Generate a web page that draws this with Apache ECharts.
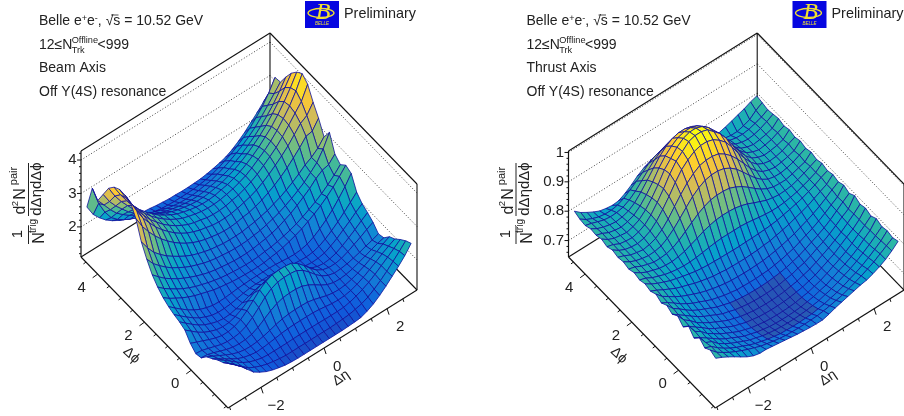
<!DOCTYPE html>
<html><head><meta charset="utf-8">
<style>html,body{margin:0;padding:0;background:#fff}#c{width:904px;height:416px}</style>
<script src="https://cdn.jsdelivr.net/npm/echarts@6/dist/echarts.min.js"></script>
</head><body><div id="c"></div>
<script>
// rows run along dPhi (first row = lowest dPhi), columns along dEta
const zBeam = [
[2.30,2.14,1.96,1.76,1.56,1.44,1.34,1.27,1.22,1.18,1.16,1.15,1.15,1.15,1.15,1.15,1.15,1.15,1.15,1.16,1.17,1.19,1.26,1.36,1.50,1.66,1.84,2.02,2.22,2.47],
[2.15,2.00,1.84,1.68,1.52,1.42,1.34,1.28,1.24,1.21,1.19,1.19,1.19,1.19,1.19,1.19,1.19,1.19,1.20,1.21,1.23,1.27,1.32,1.40,1.52,1.66,1.82,2.00,2.18,2.38],
[2.06,1.93,1.79,1.64,1.51,1.41,1.34,1.29,1.27,1.27,1.27,1.27,1.28,1.28,1.28,1.28,1.28,1.27,1.27,1.27,1.28,1.32,1.38,1.46,1.56,1.68,1.82,1.96,2.10,2.25],
[1.93,1.81,1.69,1.57,1.46,1.38,1.33,1.30,1.31,1.33,1.36,1.39,1.41,1.42,1.42,1.42,1.42,1.40,1.37,1.34,1.33,1.34,1.38,1.45,1.54,1.65,1.77,1.89,2.00,2.10],
[1.82,1.72,1.62,1.52,1.43,1.36,1.32,1.31,1.33,1.37,1.43,1.49,1.54,1.57,1.58,1.58,1.57,1.53,1.47,1.41,1.37,1.36,1.38,1.43,1.50,1.59,1.69,1.79,1.90,2.00],
[1.62,1.60,1.54,1.47,1.40,1.35,1.33,1.34,1.38,1.47,1.60,1.73,1.83,1.89,1.91,1.91,1.88,1.80,1.69,1.56,1.46,1.40,1.39,1.41,1.46,1.53,1.60,1.68,1.75,1.80],
[1.58,1.56,1.50,1.44,1.38,1.35,1.35,1.38,1.46,1.60,1.78,1.97,2.11,2.19,2.21,2.21,2.18,2.07,1.90,1.71,1.55,1.45,1.40,1.41,1.44,1.49,1.55,1.62,1.68,1.75],
[1.72,1.64,1.56,1.48,1.41,1.36,1.36,1.40,1.49,1.64,1.83,2.02,2.16,2.24,2.26,2.26,2.23,2.11,1.93,1.73,1.56,1.45,1.40,1.40,1.44,1.52,1.62,1.72,1.83,1.93],
[1.95,1.80,1.65,1.53,1.44,1.37,1.34,1.35,1.41,1.51,1.64,1.77,1.87,1.93,1.95,1.95,1.92,1.82,1.69,1.55,1.45,1.38,1.35,1.37,1.43,1.53,1.65,1.78,1.92,2.05],
[2.03,1.87,1.72,1.58,1.47,1.39,1.33,1.30,1.31,1.36,1.42,1.50,1.57,1.61,1.62,1.62,1.60,1.55,1.48,1.41,1.35,1.33,1.34,1.38,1.47,1.58,1.72,1.86,2.01,2.15],
[2.08,1.92,1.77,1.63,1.51,1.42,1.35,1.32,1.32,1.34,1.38,1.42,1.45,1.46,1.46,1.46,1.45,1.43,1.40,1.36,1.34,1.33,1.35,1.41,1.51,1.64,1.79,1.96,2.14,2.33],
[2.15,1.99,1.84,1.70,1.58,1.48,1.41,1.36,1.35,1.36,1.38,1.40,1.41,1.42,1.42,1.42,1.42,1.41,1.39,1.37,1.36,1.38,1.43,1.52,1.65,1.80,1.98,2.20,2.44,2.72],
[2.25,2.11,2.00,1.89,1.80,1.72,1.66,1.60,1.54,1.50,1.47,1.44,1.42,1.41,1.40,1.40,1.41,1.44,1.47,1.51,1.57,1.64,1.72,1.82,1.93,2.06,2.21,2.38,2.58,2.80],
[2.40,2.24,2.11,1.99,1.88,1.79,1.71,1.65,1.59,1.54,1.50,1.47,1.45,1.43,1.42,1.42,1.43,1.46,1.48,1.52,1.57,1.63,1.70,1.79,1.89,2.00,2.13,2.28,2.45,2.65],
[2.60,2.42,2.26,2.13,2.01,1.91,1.82,1.74,1.67,1.61,1.57,1.54,1.51,1.49,1.48,1.48,1.50,1.53,1.56,1.61,1.67,1.76,1.85,1.97,2.10,2.24,2.42,2.55,2.60,2.80],
[2.90,2.65,2.47,2.31,2.17,2.06,1.95,1.86,1.79,1.72,1.67,1.63,1.61,1.58,1.57,1.57,1.58,1.61,1.64,1.69,1.75,1.82,1.91,2.01,2.13,2.26,2.43,2.61,2.90,3.28],
[3.25,2.95,2.70,2.52,2.36,2.23,2.11,2.00,1.91,1.84,1.78,1.73,1.70,1.67,1.66,1.66,1.67,1.70,1.73,1.78,1.83,1.91,1.99,2.09,2.21,2.34,2.49,2.60,2.75,2.98],
[3.78,3.43,3.15,2.91,2.70,2.52,2.36,2.22,2.10,2.00,1.92,1.86,1.82,1.78,1.76,1.76,1.78,1.82,1.85,1.91,1.98,2.08,2.19,2.32,2.47,2.65,2.84,3.06,3.10,3.37],
[4.10,3.72,3.39,3.13,2.89,2.69,2.52,2.36,2.23,2.12,2.04,1.97,1.93,1.88,1.86,1.86,1.88,1.92,1.97,2.03,2.11,2.22,2.35,2.50,2.66,2.84,3.06,3.28,3.40,3.68],
[4.15,3.78,3.45,3.18,2.94,2.75,2.57,2.42,2.29,2.18,2.09,2.03,1.99,1.94,1.92,1.92,1.94,1.99,2.03,2.10,2.19,2.30,2.44,2.59,2.75,2.95,3.18,3.42,3.65,4.05],
[4.15,3.78,3.45,3.19,2.96,2.76,2.59,2.44,2.31,2.20,2.11,2.05,2.00,1.96,1.94,1.94,1.96,2.00,2.05,2.12,2.20,2.32,2.46,2.60,2.77,2.97,3.21,3.47,3.80,4.20],
[4.05,3.71,3.41,3.15,2.91,2.72,2.55,2.39,2.27,2.16,2.07,2.01,1.96,1.92,1.90,1.90,1.92,1.97,2.01,2.08,2.16,2.27,2.40,2.55,2.73,2.92,3.16,3.43,3.73,4.08],
[3.85,3.50,3.22,2.98,2.75,2.57,2.41,2.27,2.15,2.05,1.97,1.91,1.87,1.83,1.81,1.81,1.83,1.87,1.91,1.98,2.06,2.17,2.29,2.44,2.60,2.79,3.02,3.27,3.57,3.88],
[3.50,3.17,2.92,2.71,2.51,2.35,2.21,2.09,1.98,1.89,1.82,1.77,1.73,1.70,1.68,1.68,1.70,1.74,1.78,1.84,1.91,2.01,2.12,2.26,2.41,2.59,2.79,3.02,3.29,3.60],
[3.15,2.90,2.64,2.42,2.26,2.12,2.00,1.90,1.82,1.75,1.68,1.62,1.58,1.55,1.54,1.54,1.56,1.60,1.63,1.70,1.78,1.87,1.98,2.10,2.24,2.40,2.60,2.82,3.05,3.28],
[3.35,2.78,2.40,2.12,1.95,1.82,1.72,1.64,1.58,1.52,1.48,1.45,1.43,1.42,1.42,1.42,1.43,1.45,1.48,1.53,1.60,1.69,1.78,1.90,2.04,2.20,2.40,2.62,2.90,3.25],
[2.62,2.28,2.06,1.88,1.74,1.63,1.55,1.49,1.45,1.42,1.40,1.37,1.35,1.33,1.33,1.32,1.32,1.33,1.34,1.37,1.41,1.46,1.52,1.62,1.75,1.90,2.08,2.26,2.46,2.62]
];
const zThrust = [
[.797,.787,.775,.762,.748,.735,.725,.720,.720,.717,.714,.711,.708,.705,.703,.701,.700,.700,.706,.714,.720,.726,.732,.738,.742,.750,.760,.772,.788,.807],
[.806,.785,.771,.758,.747,.737,.728,.720,.712,.707,.702,.698,.695,.694,.693,.693,.694,.695,.698,.702,.707,.712,.720,.728,.737,.747,.758,.772,.786,.800],
[.794,.786,.768,.753,.740,.729,.720,.710,.702,.696,.690,.686,.682,.681,.680,.680,.681,.682,.686,.690,.696,.702,.710,.720,.729,.740,.753,.768,.784,.805],
[.810,.780,.770,.750,.736,.724,.714,.704,.695,.689,.682,.678,.675,.673,.672,.672,.673,.675,.678,.682,.689,.695,.704,.714,.724,.736,.750,.765,.782,.800],
[.790,.778,.763,.748,.733,.720,.710,.699,.689,.683,.676,.672,.668,.666,.665,.665,.666,.668,.672,.676,.683,.689,.699,.710,.720,.732,.746,.764,.781,.808],
[.812,.780,.766,.746,.732,.718,.707,.696,.686,.679,.672,.668,.664,.662,.661,.661,.662,.664,.668,.672,.679,.686,.696,.707,.718,.730,.745,.762,.779,.798],
[.790,.778,.762,.747,.730,.717,.706,.695,.685,.678,.671,.667,.663,.661,.660,.660,.661,.663,.667,.671,.678,.685,.695,.706,.717,.732,.747,.761,.780,.806],
[.808,.781,.765,.745,.731,.718,.707,.696,.686,.679,.672,.668,.664,.662,.661,.661,.662,.664,.668,.672,.679,.686,.696,.707,.718,.731,.745,.762,.780,.800],
[.795,.779,.764,.748,.733,.720,.710,.699,.689,.683,.676,.672,.668,.666,.665,.665,.666,.668,.672,.676,.683,.689,.699,.710,.720,.733,.748,.764,.778,.810],
[.806,.782,.767,.750,.735,.723,.713,.703,.693,.687,.680,.676,.673,.671,.670,.670,.671,.673,.676,.680,.687,.693,.703,.713,.723,.735,.749,.766,.783,.799],
[.795,.783,.768,.752,.739,.727,.718,.708,.699,.693,.687,.683,.679,.678,.677,.677,.678,.679,.683,.687,.693,.699,.708,.718,.727,.739,.752,.767,.781,.808],
[.806,.785,.771,.757,.745,.735,.726,.717,.710,.704,.699,.695,.692,.691,.690,.690,.691,.692,.695,.699,.704,.710,.717,.726,.735,.745,.757,.771,.786,.800],
[.797,.787,.775,.764,.753,.745,.738,.730,.724,.719,.714,.712,.709,.708,.707,.707,.708,.709,.712,.714,.719,.724,.730,.738,.745,.753,.764,.775,.786,.806],
[.803,.789,.778,.769,.760,.754,.748,.743,.738,.735,.733,.732,.731,.731,.730,.730,.731,.731,.732,.733,.735,.738,.743,.748,.754,.760,.769,.778,.790,.800],
[.797,.790,.778,.770,.762,.757,.753,.751,.751,.753,.756,.760,.763,.765,.765,.765,.765,.763,.760,.756,.753,.751,.751,.753,.757,.762,.770,.778,.788,.806],
[.803,.789,.778,.771,.764,.761,.760,.763,.768,.777,.786,.796,.803,.808,.810,.810,.808,.803,.796,.786,.777,.768,.763,.760,.761,.764,.771,.780,.790,.800],
[.796,.790,.779,.772,.766,.766,.768,.775,.787,.803,.820,.836,.848,.857,.860,.860,.857,.848,.836,.820,.803,.787,.775,.768,.766,.766,.772,.779,.786,.806],
[.802,.788,.779,.773,.769,.770,.775,.788,.806,.829,.853,.876,.893,.905,.910,.910,.905,.893,.876,.853,.829,.806,.788,.775,.770,.769,.773,.780,.790,.800],
[.798,.790,.779,.774,.770,.774,.782,.798,.821,.850,.878,.903,.922,.936,.941,.941,.936,.922,.903,.878,.850,.821,.798,.782,.774,.770,.774,.779,.786,.806],
[.804,.789,.779,.774,.772,.777,.788,.808,.835,.866,.900,.930,.950,.965,.972,.972,.965,.950,.930,.900,.866,.835,.808,.788,.777,.772,.774,.780,.790,.800],
[.796,.790,.779,.775,.773,.779,.790,.811,.840,.873,.910,.940,.960,.980,.987,.987,.980,.960,.940,.910,.873,.840,.811,.790,.779,.773,.775,.779,.786,.806],
[.803,.788,.779,.775,.772,.778,.789,.809,.836,.868,.905,.930,.955,.972,.980,.980,.972,.955,.930,.905,.868,.836,.809,.789,.778,.772,.775,.780,.790,.800],
[.797,.790,.779,.774,.771,.776,.785,.803,.828,.858,.892,.920,.940,.955,.962,.962,.955,.940,.920,.892,.858,.828,.803,.785,.776,.771,.774,.779,.786,.806],
[.800,.787,.779,.773,.770,.773,.780,.795,.818,.845,.873,.900,.920,.934,.940,.940,.934,.920,.900,.873,.845,.818,.795,.780,.773,.770,.773,.780,.790,.802],
[.792,.786,.778,.771,.768,.769,.774,.785,.802,.824,.847,.868,.884,.896,.900,.900,.896,.884,.868,.847,.824,.802,.785,.774,.769,.768,.771,.778,.786,.798],
[.795,.780,.770,.762,.758,.758,.762,.772,.787,.803,.820,.838,.850,.858,.860,.860,.858,.850,.838,.820,.803,.787,.772,.762,.758,.758,.764,.772,.790,.803],
[.803,.785,.772,.760,.750,.745,.742,.744,.755,.770,.788,.802,.812,.820,.822,.822,.818,.808,.796,.785,.774,.765,.760,.762,.768,.775,.783,.790,.800,.807]
];
const zTicksBeam = [2,3,4];
const zTicksThrust = [0.7,0.8,0.9,1];
const etaTicks = [-2,0,2];
const phiTicks = [0,2,4];
const birdStops = [
 [.2082,.1664,.5293],[.0592,.3599,.8684],[.0780,.5041,.8385],[.0232,.6419,.7914],
 [.1802,.7178,.6425],[.5301,.7492,.4662],[.8186,.7328,.3499],[.9956,.7862,.1968],[.9764,.9832,.0539]];

const W=189, D=147, WY=118, DY=151, H=106;  // box projection in pixels
const etaMin=-3.05, etaMax=2.95, phiMin=-Math.PI/2, phiMax=3*Math.PI/2;
const nEta=30, nPhi=27;
const etaC=[...Array(nEta).keys()].map(i=>etaMin+(i+.5)*(etaMax-etaMin)/nEta);
const phiC=[...Array(nPhi).keys()].map(j=>phiMin+(j+.5)*(phiMax-phiMin)/nPhi);

const panels=[
 {left:81,dx:0,Z:zBeam,zMin:1.1,zMax:4.27,cMin:0.85,cMax:4.2,zTicks:zTicksBeam,minor:0.2,shade:null,name:'Beam Axis'},
 {left:568.5,dx:487.5,Z:zThrust,zMin:.644,zMax:1.005,cMin:.61,cMax:.985,zTicks:zTicksThrust,minor:0.02,shade:[10,17,2,8],name:'Thrust Axis'}
];
function proj(p,eta,phi,z){
 const X=(eta-etaMin)/(etaMax-etaMin),Y=(phi-phiMin)/(phiMax-phiMin),Zz=(z-p.zMin)/(p.zMax-p.zMin);
 return [W*X-D*Y, WY*X+DY*Y+H*Zz];
}
function bird(t){
 t=Math.max(0,Math.min(1,t))*(birdStops.length-1);
 const k=Math.min(birdStops.length-2,Math.floor(t)),f=t-k;
 return birdStops[k].map((c,n)=>c+(birdStops[k+1][n]-c)*f);
}
const rgb=c=>'rgb('+c.map(v=>Math.round(v*255)).join(',')+')';
const FONT='"Liberation Sans",Arial,sans-serif';

const series=[],xAxis=[],yAxis=[],grid=[],graphic=[];
panels.forEach((p,pi)=>{
 grid.push({left:p.left,top:33,width:W+D,height:WY+DY+H});
 xAxis.push({type:'value',gridIndex:pi,min:-D,max:W,show:false});
 yAxis.push({type:'value',gridIndex:pi,min:0,max:WY+DY+H,show:false});
 series.push({type:'custom',xAxisIndex:pi,yAxisIndex:pi,silent:true,clip:false,animation:false,z:1,data:[0],
  renderItem(params,api){
   const P=(a,b,c)=>api.coord(proj(p,a,b,c));
   const c=[];
   const line=(a,b,w,dash,col)=>c.push({type:'line',shape:{x1:a[0],y1:a[1],x2:b[0],y2:b[1]},style:{stroke:col||'#111',lineWidth:w,lineDash:dash||null}});
   const Lb=P(etaMin,phiMax,p.zMin),Lt=P(etaMin,phiMax,p.zMax),Bb=P(etaMax,phiMax,p.zMin),Bt=P(etaMax,phiMax,p.zMax),
         Rb=P(etaMax,phiMin,p.zMin),Rt=P(etaMax,phiMin,p.zMax);
   p.zTicks.forEach(v=>{
     const a=P(etaMin,phiMax,v),b=P(etaMax,phiMax,v),d=P(etaMax,phiMin,v);
     line(a,b,1,[1,2],'#444');line(b,d,1,[1,2],'#444');
   });
   line(Lt,Bt,1.1);line(Bt,Rt,1.1);line(Bt,Bb,1.1);line(Rt,Rb,1.1);line(Lb,Bb,1.1);line(Bb,Rb,1.1);
   return {type:'group',children:c};
  }});
 const cells=[];
 for(let j=nPhi-2;j>=0;j--)for(let i=nEta-2;i>=0;i--)cells.push([i,j]);
 series.push({type:'custom',xAxisIndex:pi,yAxisIndex:pi,silent:true,clip:false,animation:false,z:2,data:cells,
  renderItem(params,api){
   const i=api.value(0),j=api.value(1);
   const idx=[[i,j],[i+1,j],[i+1,j+1],[i,j+1]];
   const pts=idx.map(([a,b])=>api.coord(proj(p,etaC[a],phiC[b],p.Z[b][a])));
   const m=idx.reduce((s,[a,b])=>s+p.Z[b][a],0)/4;
   let col=bird((m-p.cMin)/(p.cMax-p.cMin));
   const sh=p.shade;
   if(sh&&i>=sh[0]&&i<=sh[1]&&j>=sh[2]&&j<=sh[3]) col=col.map((v,n)=>v*.6+[.28,.26,.48][n]*.4);
   return {type:'polygon',shape:{points:pts},style:{fill:rgb(col),stroke:'#10109c',lineWidth:.8}};
  }});
 series.push({type:'custom',xAxisIndex:pi,yAxisIndex:pi,silent:true,clip:false,animation:false,z:3,data:[0],
  renderItem(params,api){
   const P=(a,b,c)=>api.coord(proj(p,a,b,c));
   const c=[];
   const line=(a,b,w)=>c.push({type:'line',shape:{x1:a[0],y1:a[1],x2:b[0],y2:b[1]},style:{stroke:'#111',lineWidth:w}});
   const txt=(s,x,y,size,rot,al)=>c.push({type:'text',x,y,rotation:rot||0,style:{text:s,x:0,y:0,font:size+'px '+FONT,fill:'#222',align:al||'center',verticalAlign:'middle'}});
   const Lb=P(etaMin,phiMax,p.zMin),Lt=P(etaMin,phiMax,p.zMax),Fb=P(etaMin,phiMin,p.zMin),Rb=P(etaMax,phiMin,p.zMin);
   line(Lb,Lt,1.2);line(Lb,Fb,1.1);line(Fb,Rb,1.1);
   const zlo=Math.ceil(p.zMin/p.minor),zhi=Math.floor(p.zMax/p.minor+1e-6);
   for(let k=zlo;k<=zhi;k++){
     const v=k*p.minor,a=P(etaMin,phiMax,v);
     const major=p.zTicks.some(t=>Math.abs(t-v)<1e-6);
     line(a,[a[0]-(major?4:2),a[1]],1);
   }
   p.zTicks.forEach(v=>{const a=P(etaMin,phiMax,v);txt(String(v),a[0]-4.5,a[1],15,0,'right');});
   for(let v=-3;v<=2.5;v+=.5){
     const a=P(v,phiMin,p.zMin);const major=etaTicks.includes(v);
     line(a,[a[0]+(major?2:1),a[1]+(major?6:3)],1);
   }
   etaTicks.forEach(v=>{const a=P(v,phiMin,p.zMin);txt(String(v).replace('-','\u2212'),a[0]+(v<0?15:13),a[1]+(v<0?19:18.5),15);});
   for(let v=-1.5;v<=4.5;v+=.5){
     const a=P(etaMin,v,p.zMin);const major=phiTicks.includes(v);
     line(a,[a[0]-(major?5:2.5),a[1]+(major?3.6:1.8)],1);
   }
   phiTicks.forEach(v=>{const a=P(etaMin,v,p.zMin);txt(String(v),a[0]-16,a[1]+14,15);});
   const e=P(0,phiMin,p.zMin);txt('\u0394\u03b7',e[0]+17,e[1]+30,14,0.6);
   const f=P(etaMin,1.7,p.zMin);txt('\u0394\u03d5',f[0]-20,f[1]+26,14,-0.75);
   return {type:'group',children:c};
  }});
 const dx=p.dx;
 const T=(style,x,y,rot)=>graphic.push({type:'text',x:x+dx,y,rotation:rot||0,silent:true,style:Object.assign({font:'14px '+FONT,fill:'#222',verticalAlign:'middle'},style)});
 const supR={sup:{fontSize:9,fontFamily:'Liberation Sans',verticalAlign:'top',fill:'#222'},n:{fontSize:14,fontFamily:'Liberation Sans',fill:'#222'}};
 T({text:'{n|Belle e}{sup|+}{n|e}{sup|-}{n|, \u221As = 10.52 GeV}',rich:supR},39,21);
 graphic.push({type:'line',silent:true,shape:{x1:111+dx,y1:15,x2:118.5+dx,y2:15},style:{stroke:'#222',lineWidth:.8}});
 T({text:'12\u2264N'},39,45);
 T({text:'Offline',font:'9.2px '+FONT},71.7,40);
 T({text:'Trk',font:'9.2px '+FONT},71.7,50.5);
 T({text:'<999'},97.5,45);
 T({text:p.name},39,68);
 T({text:'Off Y(4S) resonance'},39,92);
 T({text:'Preliminary',font:'14.4px '+FONT},344,14);
 graphic.push({type:'rect',silent:true,shape:{x:305+dx,y:1,width:34,height:27},style:{fill:'#0606e0'}});
 graphic.push({type:'ellipse',silent:true,shape:{cx:321+dx,cy:13,rx:13,ry:4.5},style:{fill:null,stroke:'#f0e030',lineWidth:1.3}});
 T({text:'B',font:'italic 24px "Liberation Serif",serif',fill:'#f0e030',align:'center'},323,13);
 T({text:'BELLE',font:'italic 4.5px '+FONT,fill:'#f0e030',align:'center'},322,23.5);
 const R=Math.PI/2;
 T({text:'1',font:'15px '+FONT,align:'center'},18,234,R);
 T({text:'N',font:'16px '+FONT,align:'center'},40,238,R);
 T({text:'trig',font:'10px '+FONT,align:'center'},33,226,R);
 T({text:'d',font:'16px '+FONT,align:'center'},21,210,R);
 T({text:'2',font:'9.5px '+FONT,align:'center'},15,203.5,R);
 T({text:'N',font:'16px '+FONT,align:'center'},21,194,R);
 T({text:'pair',font:'11px '+FONT,align:'center'},14,176,R);
 T({text:'d\u0394\u03b7d\u0394\u03d5',font:'15px '+FONT,align:'center'},37,189,R);
 graphic.push({type:'line',silent:true,shape:{x1:28.5+dx,y1:226,x2:28.5+dx,y2:244},style:{stroke:'#222',lineWidth:1}});
 graphic.push({type:'line',silent:true,shape:{x1:28.5+dx,y1:163,x2:28.5+dx,y2:216},style:{stroke:'#222',lineWidth:1}});
});
const chart=echarts.init(document.getElementById('c'),null,{renderer:'canvas'});
chart.setOption({animation:false,backgroundColor:'#fff',grid,xAxis,yAxis,series,graphic});
</script></body></html>
